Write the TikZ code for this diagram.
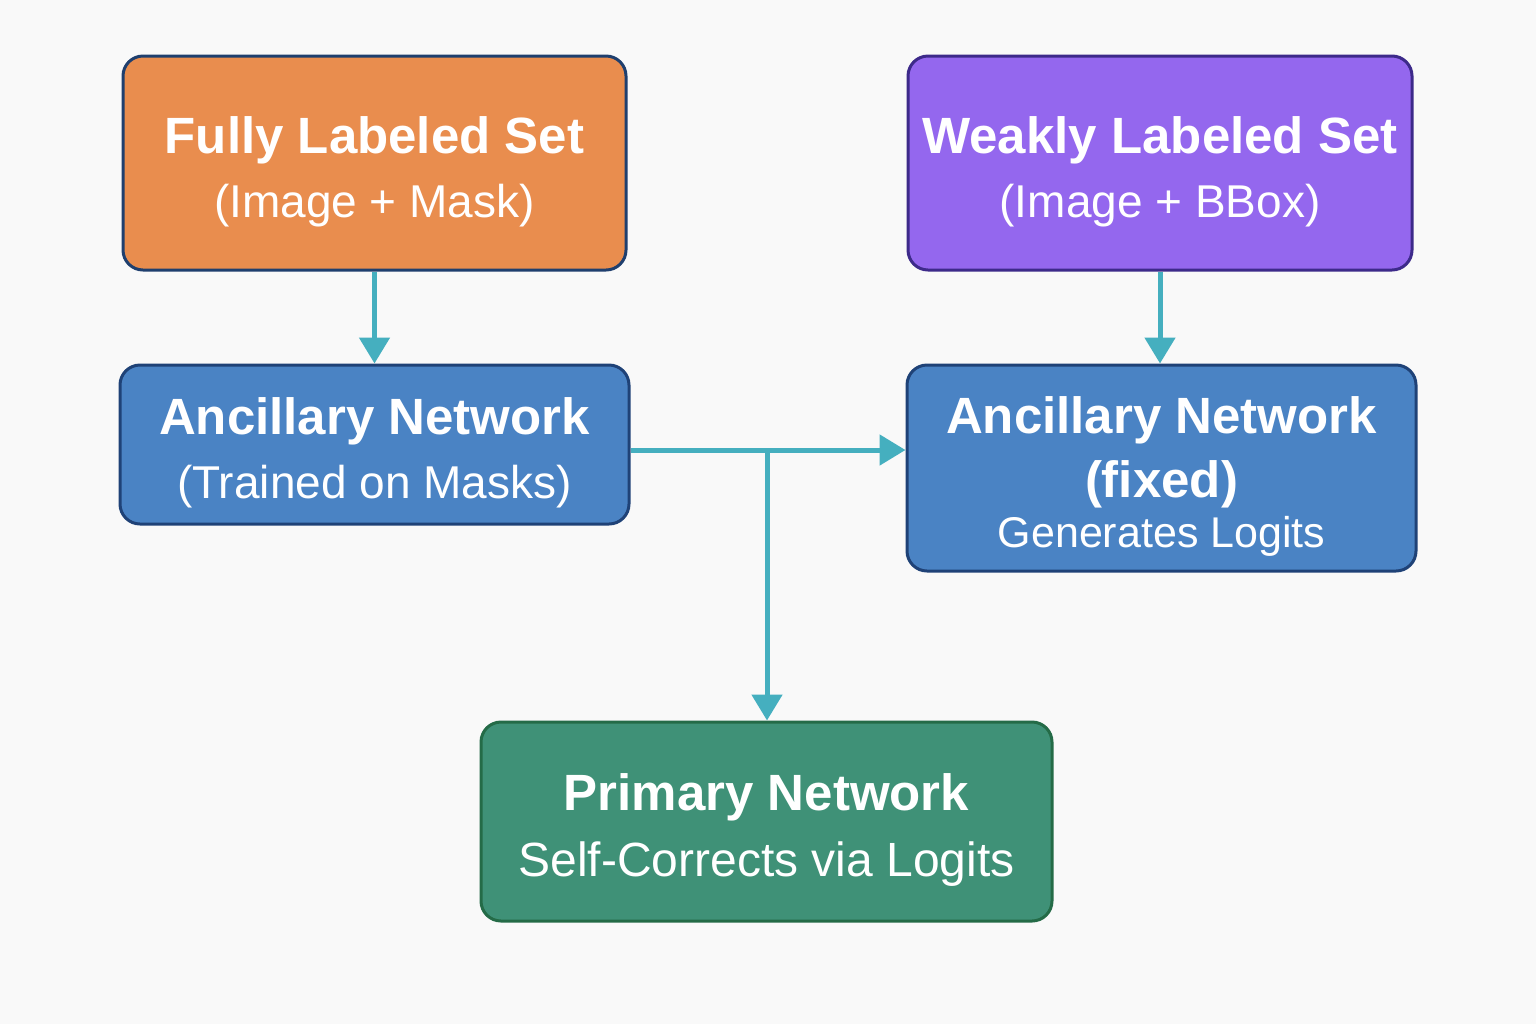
\documentclass[tikz,border=0pt]{standalone}
\usepackage{fontspec}
\setmainfont{Liberation Sans}
\usetikzlibrary{arrows.meta}

\definecolor{bgcol}{HTML}{F9F9F9}
\definecolor{orangefill}{HTML}{E98D4E}
\definecolor{orangeline}{HTML}{1F3F6E}
\definecolor{purplefill}{HTML}{9467EE}
\definecolor{purpleline}{HTML}{3D2A8A}
\definecolor{bluefill}{HTML}{4A83C4}
\definecolor{blueline}{HTML}{1F4277}
\definecolor{greenfill}{HTML}{3F9177}
\definecolor{greenline}{HTML}{246B47}
\definecolor{linkcol}{HTML}{45AFBF}

\newcommand\titlefont{\bfseries\fontsize{25.5}{32}\selectfont\rule{0pt}{27pt}}
\newcommand\subfont{\fontsize{23}{32}\selectfont}

\tikzset{
    box/.style={draw, line width=1.5pt, rounded corners=10pt, text=white, align=center,
        inner sep=0pt, font=\fontsize{23}{32}\selectfont},
    link/.style={draw=linkcol, line width=2.5pt, -{Triangle[width=15pt,length=13pt]}}
}

\begin{document}
\begin{tikzpicture}[x=0.5pt, y=-0.5pt]
        % фон
        \fill [bgcol] ( 0, 0 ) rectangle ( 1536, 1024 );
        \useasboundingbox ( 0, 0 ) rectangle ( 1536, 1024 );

        % наборы данных
        \node [box, fill=orangefill, draw=orangeline, minimum width=251.5pt, minimum height=107pt]
            (full) at ( 374.5, 163 ) {{\titlefont Fully Labeled Set}\\{\subfont (Image + Mask)}};
        \node [box, fill=purplefill, draw=purpleline, minimum width=252pt, minimum height=107pt]
            (weak) at ( 1160, 163 ) {{\titlefont Weakly Labeled Set}\\{\subfont (Image + BBox)}};

        % вспомогательные сети
        \node [box, fill=bluefill, draw=blueline, minimum width=254.5pt, minimum height=79.5pt]
            (ancL) at ( 374.5, 444.5 ) {{\titlefont Ancillary Network}\\{\subfont (Trained on Masks)}};
        \node [box, fill=bluefill, draw=blueline, minimum width=254.5pt, minimum height=103pt]
            (ancR) at ( 1161.5, 468 ) {{\titlefont Ancillary Network}\\{\bfseries\fontsize{25.5}{32}\selectfont (fixed)}\\[-7pt]{\fontsize{21.5}{32}\selectfont Generates Logits}};

        % основная сеть
        \node [box, fill=greenfill, draw=greenline, minimum width=285.5pt, minimum height=99.5pt]
            (prim) at ( 766.5, 821.5 ) {{\titlefont Primary Network}\\[1pt]{\fontsize{24}{32}\selectfont Self-Corrects via Logits}};

        % связи
        \coordinate (split) at ( 767, 450 );
        \draw [link] (full.south) -- (ancL.north);
        \draw [link] (weak.south) -- (weak.south |- ancR.north);
        \draw [link] (ancL.east |- split) -- (ancR.west |- split);
        \draw [link] (split) -- (split |- prim.north);
    \end{tikzpicture}
\end{document}
